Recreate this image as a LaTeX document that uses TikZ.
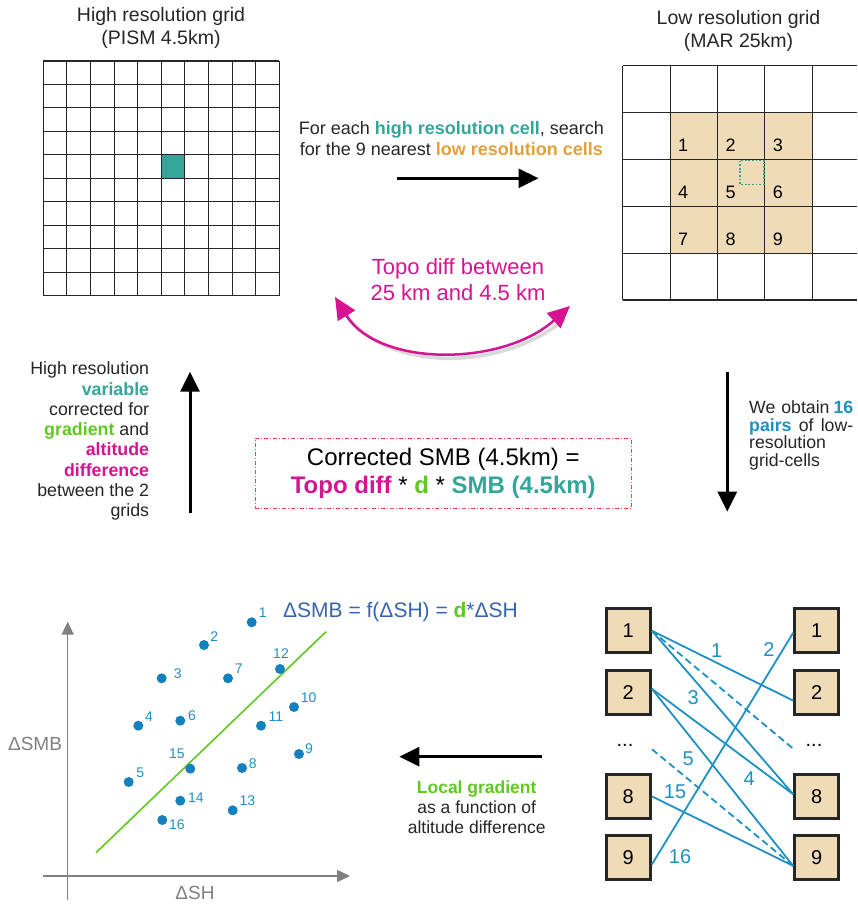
\documentclass[tikz,border=0pt]{standalone}
\usepackage{fontspec}
\setmainfont{Liberation Sans}
\usetikzlibrary{arrows.meta}

\definecolor{hrteal}{RGB}{52,166,153}
\definecolor{lrbeige}{RGB}{240,219,183}
\definecolor{lrorange}{RGB}{227,161,60}
\definecolor{topo}{RGB}{214,20,146}
\definecolor{grad}{RGB}{94,201,32}
\definecolor{pair}{RGB}{30,145,195}
\definecolor{dotblue}{RGB}{20,128,189}
\definecolor{fitblue}{RGB}{55,100,170}
\definecolor{axisgray}{RGB}{128,128,128}

\newcommand{\setfs}[2]{\fontsize{#1pt}{#2pt}\selectfont}

\begin{document}
\begin{tikzpicture}[x=1pt,y=-1pt,
  gridline/.style={line width=1.1pt,black!85},
  bigarrow/.style={line width=3pt,-{Triangle[length=20pt,width=19pt]}},
  cellbox/.style={draw=black!85,line width=3pt,fill=lrbeige,minimum size=44pt,inner sep=0pt,font=\setfs{20}{22}},
  pairline/.style={pair,line width=1.8pt},
  pairdash/.style={pairline,dash pattern=on 7pt off 4pt},
  pairlabel/.style={pair,font=\setfs{20}{22}},
  dot/.style={circle,fill=dotblue,inner sep=0pt,minimum size=10pt},
  dotlabel/.style={pair,font=\setfs{14}{16}},
  axisline/.style={axisgray,line width=1.5pt,-{Triangle[length=13pt,width=12pt]}}
]
\path[fill=white,use as bounding box] (0,0) rectangle (857,905);

% High resolution grid
\node[align=center,text=black!85,font=\setfs{19.5}{23}] (hrtitle) at (161,28) {High resolution grid\\(PISM 4.5km)};
\fill[hrteal] (161.3,154.9) rectangle (184.9,178.4);
\foreach \i in {0,...,10} {
  \draw[gridline] (43.3+23.6*\i,61) -- (43.3+23.6*\i,295.7);
  \draw[gridline] (43.3,61+23.47*\i) -- (279.3,61+23.47*\i);
}

% Low resolution grid
\node[align=center,text=black!85,font=\setfs{19.5}{23}] (lrtitle) at (738.5,31) {Low resolution grid\\(MAR 25km)};
\fill[lrbeige] (670.1,112.6) rectangle (812.3,253.1);
\foreach \i in {0,...,4}
  \draw[gridline] (622.7+47.4*\i,65.7) -- (622.7+47.4*\i,300);
\foreach \j in {0,...,5}
  \draw[gridline] (622.7,65.7+46.86*\j) -- (857,65.7+46.86*\j);
\foreach \r in {1,2,3} {
  \foreach \c in {1,2,3} {
    \pgfmathtruncatemacro{\k}{3*(\r-1)+\c}
    \node[font=\setfs{18}{20}] (lr\k) at (635.7+47.4*\c,98.3+46.86*\r) {\k};
  }
}
\draw[hrteal,line width=1.8pt,dash pattern=on 1.8pt off 1.8pt] (740,160.5) rectangle (764.3,184.5);

% Search step
\node[align=center,font=\setfs{18}{21},text=black!85] (search) at (451.4,138.8)
  {For each \textbf{\color{hrteal}high resolution cell}, search\\
   for the 9 nearest \textbf{\color{lrorange}low resolution cells}};
\coordinate (s1) at (397,178.3);
\coordinate (s2) at (538.5,178.3);
\draw[bigarrow] (s1) -- (s2);

% Topo diff
\node[align=center,topo,font=\setfs{22}{26}] (topotext) at (458,279.7)
  {Topo diff between\\25 km and 4.5 km};
\coordinate (t1) at (335,297);
\coordinate (t2) at (570,306);
\draw[black,opacity=0.15,line width=3.5pt] (342,309) .. controls (382,373) and (500,373) .. (565,319);
\draw[topo,line width=2.5pt,{Triangle[length=22pt,width=20pt]}-{Triangle[length=22pt,width=20pt]}]
  (t1) .. controls (378,367) and (502,367) .. (t2);

% Pairs step
\coordinate (p1) at (727.3,371.7);
\coordinate (p2) at (727.3,511.7);
\draw[bigarrow] (p1) -- (p2);
\node[anchor=west,text width=104pt,inner sep=0pt,align=left,text=black!85,font=\setfs{17.7}{17.8}] (pairtext) at (749,435.5)
  {We obtain\hfill\textbf{\color{pair}16}\\
   \textbf{\color{pair}pairs}\hfill of\hfill low-\\
   resolution\\
   grid-cells};

% Correction step
\coordinate (c1) at (190,513.3);
\coordinate (c2) at (190,371.7);
\draw[bigarrow] (c1) -- (c2);
\node[anchor=east,align=right,inner sep=0pt,text=black!85,font=\setfs{17.8}{20.3}] (corrtext) at (149.3,441.2)
  {High resolution\\
   \textbf{\color{hrteal}variable}\\
   corrected for\\
   \textbf{\color{grad}gradient} and\\
   \textbf{\color{topo}altitude}\\
   \textbf{\color{topo}difference}\\
   between the 2\\
   grids};

% Formula box
\node[draw=red!75,line width=0.8pt,dash pattern=on 4pt off 2pt on 1pt off 2pt,
  minimum width=376.7pt,minimum height=70pt,align=center,font=\setfs{24}{28.4}] (smbbox) at (443.3,473.3)
  {Corrected SMB (4.5km) =\\
   \textbf{\color{topo}Topo diff} * \textbf{\color{grad}d} * \textbf{\color{hrteal}SMB (4.5km)}};

% Gradient step
\coordinate (g1) at (541.7,756.7);
\coordinate (g2) at (399.3,756.7);
\draw[bigarrow] (g1) -- (g2);
\node[align=center,text=black!85,font=\setfs{17.5}{20}] (gradtext) at (476.7,807)
  {\textbf{\color{grad}Local gradient}\\as a function of\\altitude difference};

% Scatter plot
\coordinate (ya) at (67.7,900);
\coordinate (yb) at (67.7,621.7);
\coordinate (xa) at (43.3,876);
\coordinate (xb) at (350,876);
\draw[axisline] (ya) -- (yb);
\draw[axisline] (xa) -- (xb);
\node[axisgray,font=\setfs{19}{21}] (ylab) at (35,744) {ΔSMB};
\node[axisgray,font=\setfs{19}{21}] (xlab) at (195,893) {ΔSH};
\coordinate (f1) at (96,852.7);
\coordinate (f2) at (326,631.7);
\draw[grad,line width=1.6pt] (f1) -- (f2);
\foreach \n/\x/\y/\lx/\ly in {1/251.7/622.3/262.7/612.7, 2/204/645/214.3/636.7,
    3/161.7/678.3/177.7/673.3, 4/138.3/725.7/149/716.7, 5/128.7/782/140.3/772.3,
    6/180.3/720.7/192/715.7, 7/228/678.3/238.7/668.3, 8/242/768/252.7/763.3,
    9/299/754/309/749, 10/294/707/308.7/697.7, 11/261/725.7/276/717,
    12/280/669/281/654, 13/232.7/810.3/247.3/800.7, 14/180.3/800.7/196/797.3,
    15/190.3/768.7/177/754, 16/162.3/820/177/824.3} {
  \node[dot] (pt\n) at (\x,\y) {};
  \node[dotlabel] (ptl\n) at (\lx,\ly) {\n};
}
\node[fitblue,font=\setfs{21}{23}] (fit) at (400.5,611.7) {ΔSMB = f(ΔSH) = \textbf{\color{grad}d}*ΔSH};

% Pairs of cells
\node[cellbox] (l1) at (628.3,630.7) {1};
\node[cellbox] (l2) at (628.3,692.5) {2};
\node[cellbox] (l8) at (628.3,796.3) {8};
\node[cellbox] (l9) at (628.3,857.8) {9};
\node[cellbox] (r1) at (816.7,630.7) {1};
\node[cellbox] (r2) at (816.7,692.5) {2};
\node[cellbox] (r8) at (816.7,796.3) {8};
\node[cellbox] (r9) at (816.7,857.8) {9};
\node[font=\setfs{20}{22}] (ldots) at (625,745) {...};
\node[font=\setfs{20}{22}] (rdots) at (814,745) {...};
\coordinate (lgap) at (652,749.3);
\coordinate (rgap) at (792.7,748.3);

\draw[pairline] (l1.east) -- (r2.199);
\draw[pairline] (l1.east) -- (r8.175);
\draw[pairdash] (l1.east) -- (rgap);
\draw[pairline] (l2.9) -- (r8.175);
\draw[pairline] (l2.9) -- (r9.199);
\draw[pairdash] (lgap) -- (r9.199);
\draw[pairline] (l8.east) -- (r9.199);
\draw[pairline] (l9.344) -- (r1.185);

\node[pairlabel] (n1) at (716.7,651) {1};
\node[pairlabel] (n2) at (769,650) {2};
\node[pairlabel] (n3) at (693.3,697.3) {3};
\node[pairlabel] (n4) at (749.3,778.3) {4};
\node[pairlabel] (n5) at (688.3,758.3) {5};
\node[pairlabel] (n15) at (675,791.7) {15};
\node[pairlabel] (n16) at (680,856.7) {16};

\end{tikzpicture}
\end{document}
